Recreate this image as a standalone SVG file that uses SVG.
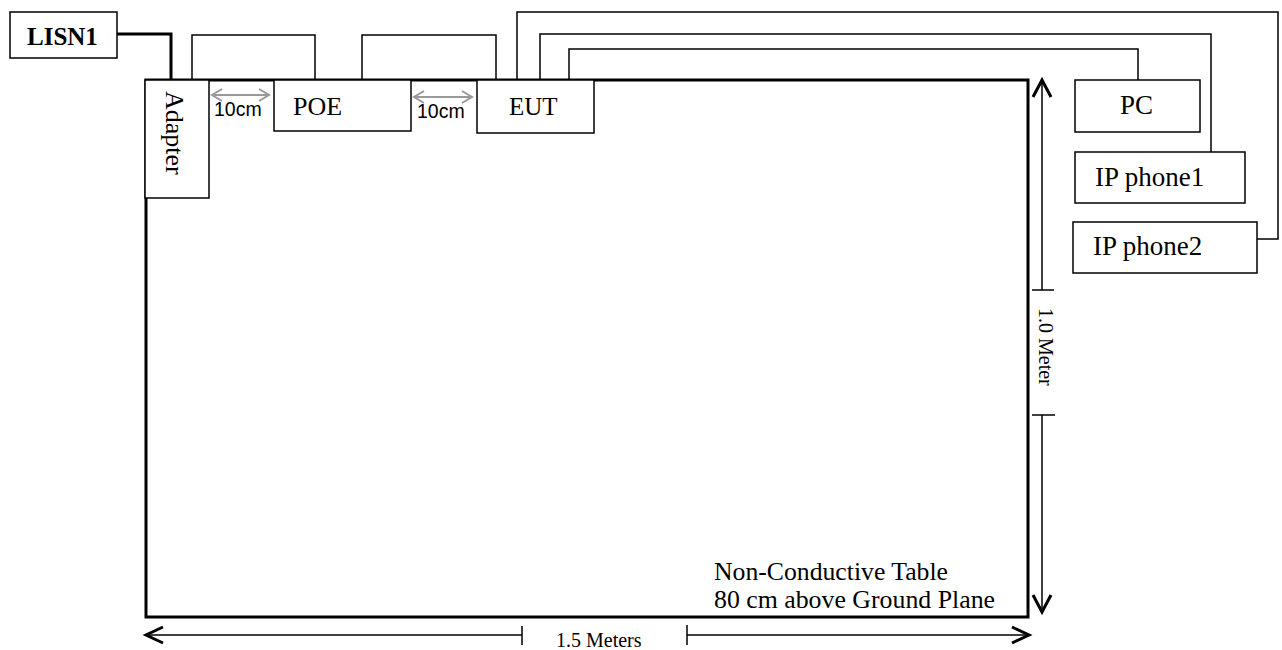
<svg xmlns="http://www.w3.org/2000/svg" width="1282" height="650" viewBox="0 0 1282 650">
<style>
.box{fill:#fff;stroke:#000;stroke-width:1.5}
.t{font-family:"Liberation Serif","Times New Roman",serif;fill:#000}
.a{font-family:"Liberation Sans",Arial,sans-serif;fill:#000}
.w{fill:none;stroke:#000;stroke-width:1.5}
.thick{fill:none;stroke:#000;stroke-width:3}
.dim{fill:none;stroke:#000;stroke-width:1.5}
.head{fill:none;stroke:#000;stroke-width:3;stroke-linejoin:miter}
.gray{fill:none;stroke:#999;stroke-width:2}
</style>
<rect width="1282" height="650" fill="#fff"/>
<g id="connectors">
<polyline class="thick" points="117,34 171,34 171,80"/>
<polyline class="w" points="192,80 192,35 315,35 315,80"/>
<polyline class="w" points="362,80 362,35 496,35 496,80"/>
<polyline class="w" points="517,80 517,12 1278,12 1278,239 1257,239"/>
<polyline class="w" points="540,80 540,34 1211,34 1211,152"/>
<polyline class="w" points="569,80 569,49 1138,49 1138,80"/>
</g>
<g id="table">
<rect x="146" y="80" width="882" height="537" fill="none" stroke="#000" stroke-width="3"/>
<text class="t" x="714" y="580" font-size="24.5" textLength="234" lengthAdjust="spacingAndGlyphs">Non-Conductive Table</text>
<text class="t" x="714" y="608" font-size="24.5" textLength="281" lengthAdjust="spacingAndGlyphs">80 cm above Ground Plane</text>
</g>
<g id="lisn1">
<rect class="box" x="10" y="12" width="107" height="46"/>
<text class="t" x="27" y="45" font-size="25" font-weight="bold">LISN1</text>
</g>
<g id="adapter">
<rect class="box" x="145" y="80" width="64" height="118"/>
<text class="t" font-size="26" transform="translate(166,91) rotate(90)">Adapter</text>
</g>
<g id="poe">
<rect class="box" x="274" y="80" width="137" height="51"/>
<text class="t" x="293" y="115" font-size="26">POE</text>
</g>
<g id="eut">
<rect class="box" x="477" y="80" width="117" height="53"/>
<text class="t" x="509" y="115" font-size="25">EUT</text>
</g>
<g id="pc">
<rect class="box" x="1075" y="80" width="125" height="52"/>
<text class="t" x="1120" y="114" font-size="27">PC</text>
</g>
<g id="ipphone1">
<rect class="box" x="1075" y="152" width="170" height="51"/>
<text class="t" x="1095" y="186" font-size="27">IP phone1</text>
</g>
<g id="ipphone2">
<rect class="box" x="1073" y="222" width="184" height="51"/>
<text class="t" x="1093" y="255" font-size="27">IP phone2</text>
</g>
<g id="spacing">
<line class="gray" x1="212" y1="95" x2="269" y2="95"/>
<polyline class="gray" points="222,89 212,95 222,101"/>
<polyline class="gray" points="259,89 269,95 259,101"/>
<text class="a" x="214" y="116" font-size="19.5">10cm</text>
<line class="gray" x1="414" y1="97" x2="472" y2="97"/>
<polyline class="gray" points="424,91 414,97 424,103"/>
<polyline class="gray" points="462,91 472,97 462,103"/>
<text class="a" x="417" y="118" font-size="19.5">10cm</text>
</g>
<g id="dimensions">
<line class="dim" x1="1042" y1="79" x2="1042" y2="290"/>
<line class="dim" x1="1032" y1="290" x2="1054" y2="290"/>
<line class="dim" x1="1042" y1="415" x2="1042" y2="613"/>
<line class="dim" x1="1032" y1="415" x2="1055" y2="415"/>
<polyline class="head" points="1033,97 1042,80 1051,97"/>
<polyline class="head" points="1033,595 1042,612 1051,595"/>
<text class="t" font-size="20" transform="translate(1039,308) rotate(90)">1.0 Meter</text>
<line class="dim" x1="145" y1="635" x2="522" y2="635"/>
<line class="dim" x1="522" y1="626" x2="522" y2="645"/>
<line class="dim" x1="687" y1="635" x2="1030" y2="635"/>
<line class="dim" x1="687" y1="625" x2="687" y2="645"/>
<polyline class="head" points="163,627 146,635 163,643"/>
<polyline class="head" points="1012,627 1029,635 1012,643"/>
<text class="t" x="556" y="647" font-size="20">1.5 Meters</text>
</g>
</svg>
